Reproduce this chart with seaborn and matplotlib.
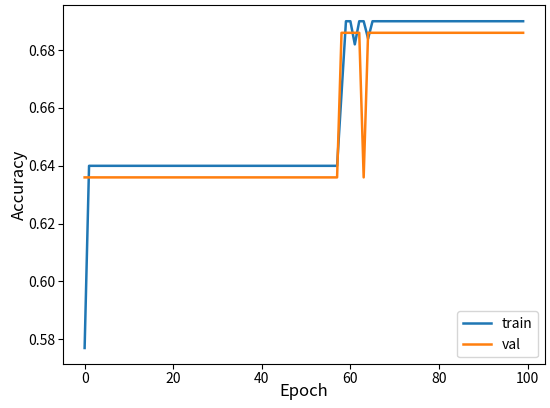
import numpy as np
import pandas as pd
import matplotlib
matplotlib.use("Agg")
import matplotlib.pyplot as plt
import seaborn as sns

epochs = list(range(100))

# train accuracy
train_early = [0.577] + [0.640] * 57          # epochs 0..57
train_mid = [0.665, 0.690, 0.690, 0.682, 0.690, 0.690, 0.684]  # epochs 58..64
train_late = [0.690] * 35                      # epochs 65..99
train = train_early + train_mid + train_late

# validation accuracy
val_early = [0.636] * 58                        # epochs 0..57
val_mid = [0.686, 0.686, 0.686, 0.686, 0.686, 0.636]  # epochs 58..63
val_late = [0.686] * 36                         # epochs 64..99
val = val_early + val_mid + val_late

df = pd.DataFrame({
    "Epoch": epochs * 2,
    "Accuracy": train + val,
    "series": ["train"] * 100 + ["val"] * 100,
})

plt.rcParams['font.family'] = ['Noto Sans CJK JP', 'DejaVu Sans']
fig, ax = plt.subplots(figsize=(5.5, 4.08), dpi=100)
fig.subplots_adjust(left=0.114, right=0.991, top=0.988, bottom=0.107)

sns.lineplot(data=df, x="Epoch", y="Accuracy", hue="series",
             palette=["#1f77b4", "#ff7f0e"], linewidth=1.8, ax=ax)

ax.set_xlabel("Epoch", fontsize=12, labelpad=-2)
ax.set_ylabel("Accuracy", fontsize=12, labelpad=0)
ax.tick_params(labelsize=10, pad=2)
ax.set_xticks([0, 20, 40, 60, 80, 100])
ax.set_yticks([0.58, 0.60, 0.62, 0.64, 0.66, 0.68])
ax.set_yticklabels(["0.58", "0.60", "0.62", "0.64", "0.66", "0.68"])
ax.legend(loc="lower right", fontsize=10, title=None)

fig.savefig("out.png", dpi=100)
